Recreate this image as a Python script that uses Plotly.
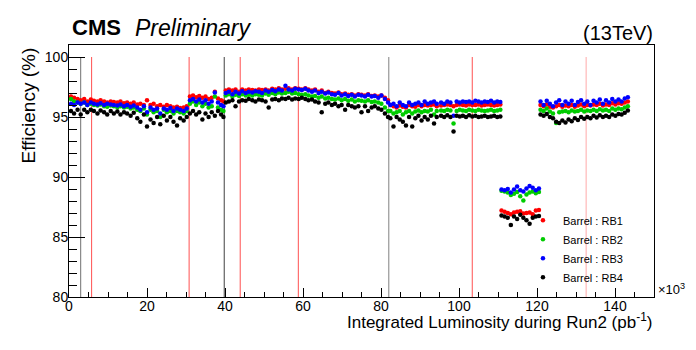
import plotly.graph_objects as go

# integrated luminosity (x10^3 pb^-1), one value per run, shared by all four stations
lumi = [
    # fill block 1
    0.5, 1.3, 2.2, 3.0, 3.9, 4.7, 5.6, 6.4, 7.3, 8.1, 9.0, 9.8, 10.7, 11.5, 12.4, 13.2, 14.1, 14.9,
    15.8, 16.6, 17.5, 18.3, 19.2, 20.0, 20.9, 21.7, 22.6, 23.4, 24.3, 25.1, 26.0, 26.8, 27.7, 28.5, 29.4, 30.2,
    # block 2
    31.0, 31.8, 32.6, 33.4, 34.2, 35.0, 35.8, 36.6, 37.4, 38.2, 39.0, 39.6,
    # block 3
    40.2, 41.0, 41.9, 42.7, 43.6, 44.4, 45.3, 46.1, 47.0, 47.8, 48.7, 49.5, 50.4, 51.2, 52.1, 52.9, 53.8,
    54.6, 55.5, 56.3, 57.2, 58.0, 58.9, 59.7, 60.6, 61.4, 62.3, 63.1, 64.0, 64.8, 65.7, 66.5, 67.4, 68.2,
    69.1, 69.9, 70.8, 71.6, 72.5, 73.3, 74.2, 75.0, 75.9, 76.7, 77.6, 78.4, 79.3, 80.1, 81.0, 81.8,
    # block 4
    82.4, 83.2, 84.0, 84.8, 85.6, 86.4, 87.2, 88.0, 88.8, 89.6, 90.4, 91.2, 92.0, 92.8, 93.6, 94.3,
    95.4, 96.2, 97.0, 97.8, 98.6, 99.4, 100.2, 101.0, 101.8, 102.6, 103.4, 104.2, 105.0, 105.8, 106.6,
    107.4, 108.2, 109.0, 109.8, 110.6,
    # low efficiency period
    110.9, 111.7, 112.5, 113.3, 114.1, 114.9, 115.7, 116.5, 117.3, 118.1, 118.9, 119.7, 120.5,
    # block 5
    120.9, 121.7, 122.5, 123.3, 124.1, 124.9, 125.7, 126.5, 127.3, 128.1, 128.9, 129.7, 130.5, 131.3,
    132.1, 132.9, 133.7, 134.5, 135.3, 136.1, 136.9, 137.7, 138.5, 139.3, 140.1, 140.9, 141.7, 142.5, 143.3,
]

eff_rb1 = [
    96.7, 96.6, 96.5, 96.4, 96.5, 96.3, 96.45, 96.35, 96.3, 96.4, 96.3, 96.2, 96.3, 96.25, 96.2, 96.3, 96.15, 96.2,
    96.1, 96.2, 96.05, 96.1, 96.0, 96.4, 96.0, 96.1, 95.9, 96.0, 95.85, 96.0, 95.9, 95.8, 95.85, 95.75, 95.8, 95.9,
    96.7, 96.8, 96.65, 96.75, 96.6, 96.7, 96.5, 96.6, 97.1, 96.55, 96.4, 96.3,
    97.2, 97.3, 97.2, 97.3, 97.1, 97.3, 97.2, 97.3, 97.25, 97.2, 97.3, 97.25, 97.3, 97.2, 97.35, 97.3, 97.4,
    97.3, 97.35, 97.4, 97.3, 97.4, 97.35, 97.3, 97.4, 97.3, 97.2, 97.3, 97.1, 97.2, 97.0, 97.1, 97.0, 96.95,
    97.05, 96.9, 96.95, 96.85, 96.9, 96.8, 96.9, 96.85, 96.8, 96.9, 96.75, 96.8, 96.7, 96.8, 96.6, 96.4,
    96.0, 95.9, 95.8, 95.95, 95.85, 95.8, 96.0, 95.9, 95.85, 96.0, 95.9, 96.0, 95.95, 96.0, 96.05, 95.9,
    95.95, 96.0, 96.05, 96.0, 95.9, 96.0, 96.05, 96.0, 95.95, 96.05, 96.0, 96.0, 96.05, 95.95, 96.0,
    96.05, 96.0, 95.95, 96.0, 96.05,
    87.2, 87.1, 87.0, 86.9, 87.05, 87.1, 87.15, 86.95, 87.0, 87.05, 86.9, 87.2, 87.25,
    96.0, 95.9, 96.05, 95.85, 95.8, 95.9, 96.0, 95.85, 95.95, 95.9, 96.0, 95.85, 95.95, 96.05,
    95.9, 96.0, 95.95, 96.05, 96.0, 96.1, 95.95, 96.05, 96.0, 96.15, 96.05, 96.15, 96.1, 96.2, 96.3,
]

eff_rb2 = [
    96.5, 96.3, 96.2, 96.1, 96.2, 96.0, 96.1, 96.0, 95.95, 96.05, 95.9, 95.85, 95.95, 95.9, 95.8, 95.9, 95.8, 95.85,
    95.7, 95.8, 95.6, 95.5, 95.7, 95.2, 95.6, 95.4, 95.5, 95.0, 95.6, 95.4, 95.5, 95.3, 95.5, 95.4, 95.3, 95.5,
    96.1, 96.3, 96.0, 96.2, 95.9, 96.1, 95.8, 95.9, 96.7, 95.8, 95.6, 95.5,
    96.8, 96.9, 96.7, 96.85, 96.75, 96.9, 96.8, 96.85, 96.8, 96.9, 96.85, 96.8, 96.95, 96.85, 97.0, 96.9, 97.05,
    96.95, 97.0, 97.1, 96.95, 97.0, 96.9, 96.85, 96.9, 96.8, 96.7, 96.75, 96.6, 96.7, 96.55, 96.6, 96.5, 96.45,
    96.55, 96.4, 96.5, 96.35, 96.45, 96.3, 96.4, 96.35, 96.3, 96.4, 96.25, 96.3, 96.2, 96.1, 95.8, 95.5,
    95.5, 95.3, 95.4, 95.5, 95.2, 95.4, 95.5, 95.3, 95.45, 95.55, 95.4, 95.5, 95.45, 95.6, 95.2, 95.5,
    95.55, 95.5, 95.6, 95.55, 94.45, 95.5, 95.6, 95.55, 95.5, 95.6, 95.55, 95.5, 95.6, 95.55, 95.5,
    95.55, 95.6, 95.5, 95.55, 95.6,
    88.85, 88.8, 88.7, 88.5, 88.6, 88.75, 88.4, 88.05, 88.55, 88.7, 88.8, 88.65, 88.75,
    95.6, 95.5, 95.7, 95.45, 95.3, 94.5, 95.4, 95.45, 95.5, 95.4, 95.55, 95.45, 95.5, 95.6,
    95.45, 95.55, 95.5, 95.6, 95.5, 95.65, 95.55, 95.6, 95.5, 95.7, 95.6, 95.7, 95.65, 95.8, 95.9,
]

eff_rb3 = [
    96.1, 96.0, 96.2, 96.1, 96.2, 96.0, 96.2, 96.1, 96.05, 96.15, 96.0, 96.1, 96.05, 96.0, 95.95, 96.05, 95.9, 96.0,
    95.85, 95.95, 95.8, 95.6, 95.9, 95.4, 95.8, 95.6, 95.7, 95.3, 95.7, 95.6, 95.75, 95.5, 95.7, 95.6, 95.5, 95.7,
    96.4, 96.5, 96.3, 96.45, 96.2, 96.4, 96.1, 96.3, 97.05, 96.2, 96.0, 95.9,
    97.0, 97.1, 96.9, 97.1, 96.95, 97.15, 97.0, 97.1, 97.05, 97.15, 97.1, 97.0, 97.2, 97.1, 97.25, 97.15, 97.3,
    97.2, 97.6, 97.3, 97.2, 97.35, 97.3, 97.25, 97.35, 97.2, 97.1, 97.2, 97.0, 97.1, 96.95, 97.05, 96.9, 96.85,
    97.0, 96.8, 96.9, 96.75, 96.85, 96.7, 96.85, 96.8, 96.7, 96.85, 96.7, 96.75, 96.6, 96.8, 96.5, 96.2,
    96.0, 96.1, 95.9, 96.2, 96.0, 95.9, 96.2, 96.0, 96.1, 96.2, 96.0, 96.3, 96.1, 96.2, 96.3, 96.1,
    96.2, 96.1, 96.3, 96.2, 95.1, 96.3, 96.2, 96.3, 96.25, 96.3, 96.2, 96.35, 96.3, 96.2, 96.3,
    96.25, 96.35, 96.2, 96.3, 96.25,
    88.95, 88.9, 89.0, 88.7, 88.95, 89.2, 88.9, 88.8, 89.05, 89.25, 89.1, 88.9, 89.05,
    96.3, 96.0, 96.35, 96.1, 95.9, 96.2, 96.4, 96.0, 96.3, 96.1, 96.35, 96.0, 96.25, 96.4,
    96.1, 96.3, 96.0, 96.35, 96.2, 96.45, 96.1, 96.4, 96.2, 96.5, 96.3, 96.45, 96.3, 96.55, 96.65,
]

eff_rb4 = [
    95.5, 95.3, 95.6, 95.2, 95.6, 95.4, 95.6, 95.5, 95.3, 95.55, 95.4, 95.2, 95.5, 95.3, 95.45, 95.2, 95.4, 95.3,
    95.1, 95.35, 94.9, 94.6, 95.2, 94.2, 94.8, 94.5, 95.0, 94.4, 95.1, 94.7, 95.0, 94.6, 94.3, 94.9, 94.7, 95.0,
    95.3, 95.5, 95.2, 95.4, 94.8, 95.3, 95.0, 95.4, 95.1, 95.5, 95.2, 95.0,
    96.2, 96.3, 96.4, 95.9, 96.3, 96.4, 96.35, 96.5, 96.4, 96.3, 96.45, 96.4, 96.3, 95.8, 96.45, 96.5, 96.4,
    96.55, 96.5, 96.6, 96.45, 96.55, 96.5, 96.6, 96.5, 96.4, 96.45, 96.3, 96.2, 95.4, 96.1, 96.2, 96.0, 96.1,
    95.9, 96.0, 95.6, 96.0, 95.9, 95.8, 95.9, 95.4, 95.9, 95.5, 95.8, 95.9, 95.7, 95.6, 95.3, 95.0,
    94.9, 94.2, 95.0, 94.8, 94.6, 94.3, 95.0, 94.2, 94.9, 95.1, 94.7, 95.0, 94.8, 95.1, 94.45, 95.0,
    95.1, 95.0, 95.15, 95.0, 93.8, 95.1, 95.05, 95.1, 95.0, 95.15, 95.05, 95.1, 95.0, 95.05, 95.1,
    95.0, 95.05, 95.1, 95.0, 95.05,
    86.8, 86.7, 86.6, 86.0, 86.7, 86.5, 86.85, 86.6, 86.4, 86.1, 86.6, 86.7, 86.75,
    95.2, 95.1, 95.25, 95.0, 94.9, 94.6, 94.5, 94.7, 94.55, 94.8, 94.65, 94.9, 94.75, 95.0,
    94.85, 95.0, 94.9, 95.1, 94.95, 95.15, 95.0, 95.1, 95.0, 95.2, 95.1, 95.25, 95.2, 95.35, 95.55,
]

series_names = ["Barrel : RB1", "Barrel : RB2", "Barrel : RB3", "Barrel : RB4"]
series_colors = ["#ff0000", "#00cc00", "#0000ff", "#000000"]

# vertical marker lines (luminosity positions)
line_lumi = [3.0, 5.8, 30.8, 39.8, 43.9, 58.8, 82.0, 103.4, 132.6]
line_colors = ["#707070", "#ff5050", "#ff5050", "#404040", "#ff5050", "#ff5050", "#808080", "#ff5050", "#ffaaaa"]

FONT = "Liberation Sans, Arial, Helvetica, sans-serif"

fig = go.Figure()

for lx, lc in zip(line_lumi, line_colors):
    fig.add_shape(type="line", xref="x", yref="y", x0=lx, x1=lx, y0=80, y1=100,
                  line=dict(color=lc, width=1), layer="below")

for name, color, eff in zip(series_names, series_colors, [eff_rb1, eff_rb2, eff_rb3, eff_rb4]):
    fig.add_trace(go.Scatter(x=lumi, y=eff, mode="markers", name=name,
                             marker=dict(color=color, size=4.5, line=dict(width=0))))

# page body has an 8px margin, so the figure is a bit smaller than the window
fig.update_layout(
    width=688, height=342,
    margin=dict(l=61, r=42, t=37, b=53),
    plot_bgcolor="white", paper_bgcolor="white",
    font=dict(family=FONT, color="black"),
    showlegend=True,
    legend=dict(x=0.776, y=0.362, xanchor="left", yanchor="top",
                font=dict(size=11), bgcolor="rgba(0,0,0,0)", tracegroupgap=0),
)

fig.update_xaxes(range=[0, 150], tick0=0, dtick=20, ticks="inside", ticklen=9, tickcolor="black",
                 minor=dict(dtick=5, ticks="inside", ticklen=5, tickcolor="black"),
                 showline=True, linecolor="black", linewidth=1, mirror=True, ticklabelstandoff=-4,
                 showgrid=False, zeroline=False, tickfont=dict(size=14))
fig.update_yaxes(range=[80, 101], tick0=80, dtick=5, ticks="inside", ticklen=16, tickcolor="black",
                 minor=dict(dtick=1, ticks="inside", ticklen=8, tickcolor="black"),
                 showline=True, linecolor="black", linewidth=1, mirror=True, ticklabelstandoff=-3,
                 showgrid=False, zeroline=False, tickfont=dict(size=14))

annots = [
    dict(text="<b>CMS</b>", x=0.002, y=1.069, xanchor="left", yanchor="middle", font=dict(size=22)),
    dict(text="<i>Preliminary</i>", x=0.109, y=1.069, xanchor="left", yanchor="middle", font=dict(size=23)),
    dict(text="(13TeV)", x=1.002, y=1.046, xanchor="right", yanchor="middle", font=dict(size=20)),
    dict(text="Efficiency (%)", x=-0.07, y=0.76, xanchor="center", yanchor="middle", textangle=-90,
         font=dict(size=19)),
    dict(text="Integrated Luminosity during Run2 (pb<sup>-1</sup>)", x=1.0, y=-0.095,
         xanchor="right", yanchor="middle", font=dict(size=17)),
    dict(text="×10<sup>3</sup>", x=1.004, y=0.03, xanchor="left", yanchor="middle", font=dict(size=13)),
]
for a in annots:
    fig.add_annotation(xref="paper", yref="paper", showarrow=False, **a)

fig.write_html("out.html")
